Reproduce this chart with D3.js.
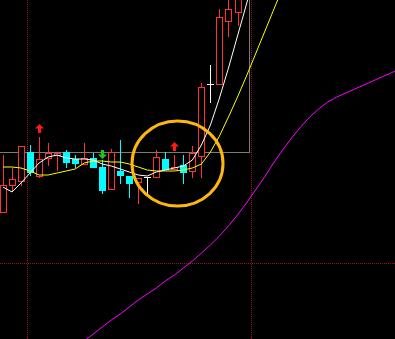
<!DOCTYPE html>
<html><head><meta charset="utf-8">
<script src="https://cdn.jsdelivr.net/npm/d3@7"></script>
<style>html,body{margin:0;padding:0;background:#000;overflow:hidden}</style>
</head><body>
<svg id="chart" width="395" height="339"></svg>
<script>
// ---- data (price units) ----
const candleOpen  = [7.88,8.15,8.19,8.48,8.24,8.42,8.45,8.48,8.41,8.36,8.42,8.33,8.11,8.29,8.24,8.18,8.23,8.23,8.41,8.31,8.35,8.29,8.44,9.16,9.16,9.79,9.88];
const candleHigh  = [8.45,8.32,8.54,8.55,8.63,8.57,8.47,8.50,8.45,8.57,8.47,8.40,8.51,8.60,8.24,8.22,8.23,8.50,8.48,8.45,8.45,8.54,9.17,9.35,9.91,10.05,10.08];
const candleLow   = [7.88,8.10,8.15,8.25,8.23,8.35,8.30,8.33,8.33,8.36,8.33,8.07,8.11,8.17,8.03,7.97,8.07,8.23,8.31,8.31,8.17,8.23,8.23,8.98,9.16,9.64,9.75];
const candleClose = [8.15,8.21,8.54,8.28,8.41,8.47,8.47,8.38,8.37,8.42,8.33,8.10,8.48,8.25,8.17,8.22,8.23,8.43,8.31,8.33,8.28,8.47,9.13,9.16,9.83,9.91,10.02];
const maWhite  = [8.13,8.08,8.17,8.27,8.37,8.43,8.45,8.42,8.41,8.41,8.40,8.36,8.34,8.31,8.28,8.25,8.24,8.28,8.30,8.32,8.34,8.40,8.55,8.75,9.02,9.32,9.64,9.96,10.30];
const maYellow = [8.33,8.33,8.32,8.29,8.25,8.25,8.27,8.29,8.31,8.37,8.39,8.39,8.38,8.38,8.36,8.33,8.30,8.29,8.29,8.29,8.30,8.32,8.36,8.48,8.64,8.83,9.03,9.24,9.46,9.68,9.90,10.12];
const maMagentaStart = 9;
const maMagenta = [6.59,6.66,6.73,6.80,6.86,6.93,7.00,7.06,7.12,7.19,7.25,7.32,7.39,7.47,7.55,7.64,7.74,7.85,7.97,8.10,8.23,8.37,8.50,8.62,8.73,8.83,8.91,8.98,9.03,9.07,9.11,9.15,9.19,9.23,9.27,9.31];
const upSignals = [4, 19];
const downSignals = [11];
const gridPrices = [7.37];
const gridIndices = [2.66, 27.55];
const guidePrice = 8.48;
const guideIndex = 27.33;
const highlightCenter = {index: 19.35, price: 8.365};

// ---- scales ----
const W = 395, H = 339;
const x = d3.scaleLinear().domain([0, 26]).range([3, 237.5]);
const y = d3.scaleLinear().domain([10 - H/100, 10]).range([H, 0]);
const svg = d3.select("#chart");
svg.append("rect").attr("width", W).attr("height", H).attr("fill", "#000");

const px = v => Math.round(v) + 0.5;

// grid (dotted red)
const g = svg.append("g").attr("shape-rendering","crispEdges");
gridIndices.forEach(i => g.append("line").attr("x1", px(x(i))).attr("x2", px(x(i))).attr("y1", 0).attr("y2", H)
  .attr("stroke", "#a0141e").attr("stroke-dasharray", "1,1"));
gridPrices.forEach(p => g.append("line").attr("x1", 0).attr("x2", W).attr("y1", px(y(p))).attr("y2", px(y(p)))
  .attr("stroke", "#a0141e").attr("stroke-dasharray", "1,1"));
// guide box (gray)
g.append("line").attr("x1", 0).attr("x2", px(x(guideIndex))).attr("y1", px(y(guidePrice))).attr("y2", px(y(guidePrice))).attr("stroke", "#7a7a7a");
g.append("line").attr("x1", px(x(guideIndex))).attr("x2", px(x(guideIndex))).attr("y1", 0).attr("y2", px(y(guidePrice))).attr("stroke", "#7a7a7a");

// candles
const candles = candleOpen.map((o, i) => ({i, o, h: candleHigh[i], l: candleLow[i], c: candleClose[i]}));
const cg = svg.append("g").attr("shape-rendering","crispEdges");
candles.forEach(d => {
  const cx = Math.round(x(d.i));
  const up = d.c > d.o, flat = d.c === d.o;
  const col = flat ? "#ffffff" : (up ? "#ff3232" : "#00ffff");
  const top = Math.round(y(Math.max(d.o, d.c))), bot = Math.round(y(Math.min(d.o, d.c)));
  cg.append("line").attr("x1", cx + 0.5).attr("x2", cx + 0.5).attr("y1", Math.round(y(d.h))).attr("y2", Math.round(y(d.l)) + 1).attr("stroke", col);
  if (flat) {
    cg.append("line").attr("x1", cx - 3).attr("x2", cx + 4).attr("y1", top + 0.5).attr("y2", top + 0.5).attr("stroke", col);
  } else if (up) {
    cg.append("rect").attr("x", cx - 2.5).attr("y", top + 0.5).attr("width", 6).attr("height", Math.max(1, bot - top)).attr("fill", "#000").attr("stroke", col);
  } else {
    cg.append("rect").attr("x", cx - 3).attr("y", top).attr("width", 7).attr("height", Math.max(1, bot - top + 1)).attr("fill", col);
  }
});

// moving averages
const line = d3.line().x(d => x(d[0])).y(d => y(d[1]));
svg.append("path").datum(maYellow.map((v, i) => [i, v])).attr("d", line).attr("fill", "none").attr("stroke", "#ffff00").attr("stroke-width", 1);
svg.append("path").datum(maWhite.map((v, i) => [i, v])).attr("d", line).attr("fill", "none").attr("stroke", "#ffffff").attr("stroke-width", 1);
svg.append("path").datum(maMagenta.map((v, i) => [i + maMagentaStart, v])).attr("d", line).attr("fill", "none").attr("stroke", "#ff00ff").attr("stroke-width", 1);

// signal arrows
const arrowUp = "M0,0 L4.5,4.5 L1.5,4.5 L1.5,9 L-1.5,9 L-1.5,4.5 L-4.5,4.5 Z";
const arrowDown = "M0,0 L4.5,-4.5 L1.5,-4.5 L1.5,-9 L-1.5,-9 L-1.5,-4.5 L-4.5,-4.5 Z";
upSignals.forEach(i => {
  svg.append("path").attr("d", arrowUp).attr("fill", "#ff1a1a")
    .attr("transform", `translate(${Math.round(x(i)) + 0.5},${Math.round(y(candleHigh[i])) - 13})`);
});
downSignals.forEach(i => {
  svg.append("path").attr("d", arrowDown).attr("fill", "#19c819")
    .attr("transform", `translate(${Math.round(x(i)) + 0.5},${Math.round(y(candleHigh[i])) - 1})`);
});

// highlight ellipse
svg.append("ellipse").attr("cx", x(highlightCenter.index)).attr("cy", y(highlightCenter.price))
  .attr("rx", 45.5).attr("ry", 42.5).attr("fill", "none").attr("stroke", "#ffb70f").attr("stroke-width", 3);
</script>
</body></html>
